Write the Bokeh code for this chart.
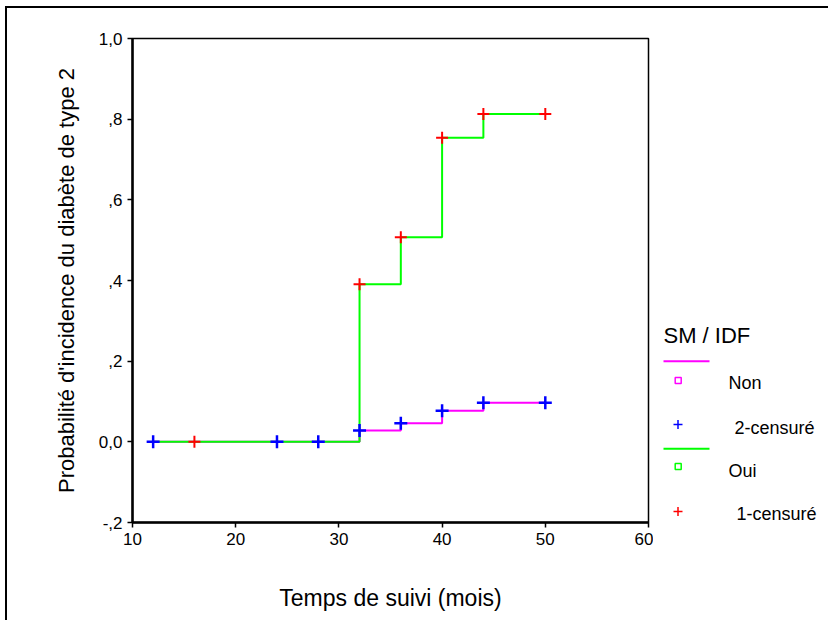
from bokeh.plotting import figure
from bokeh.layouts import row
from bokeh.models import Range1d, FixedTicker
from bokeh.core.properties import value
from bokeh.embed import file_html
from bokeh.resources import INLINE

FONT = "Liberation Sans"

# ---- data ----
non_times = [12, 32, 36, 40, 44, 50]
non_probs = [0.0, 0.028, 0.046, 0.077, 0.097, 0.097]
oui_times = [12, 32, 36, 40, 44, 50]
oui_probs = [0.0, 0.391, 0.507, 0.754, 0.813, 0.813]
non_cens_x = [12, 24, 28, 32, 36, 40, 44, 50]
non_cens_y = [0.0, 0.0, 0.0, 0.028, 0.046, 0.077, 0.097, 0.097]
oui_cens_x = [16, 32, 36, 40, 44, 50]
oui_cens_y = [0.0, 0.391, 0.507, 0.754, 0.813, 0.813]
x_ticks = [10, 20, 30, 40, 50, 60]
y_ticks = [-0.2, 0.0, 0.2, 0.4, 0.6, 0.8, 1.0]
y_tick_labels = ["-,2", "0,0", ",2", ",4", ",6", ",8", "1,0"]
legend_title = "SM / IDF"
legend_labels = ["Non", "2-censuré", "Oui", "1-censuré"]

MAGENTA, GREEN, BLUE, RED = "#ff00ff", "#00ff00", "#0000ff", "#ff0000"

H = 612
BT, BB = 30, 98
p = figure(width=646, height=H, x_range=Range1d(10, 60), y_range=Range1d(-0.2, 1.0),
           output_backend="svg", toolbar_location=None,
           min_border_left=125, min_border_right=5, min_border_top=BT, min_border_bottom=BB)
p.grid.visible = False
p.outline_line_color = "black"
p.outline_line_width = 1.5
p.background_fill_color = "white"
p.border_fill_color = "white"

for ax in (p.xaxis[0], p.yaxis[0]):
    ax.axis_line_width = 2.5
    ax.major_tick_in = 0
    ax.major_tick_out = 5
    ax.major_tick_line_width = 1.5
    ax.minor_tick_line_color = None
    ax.major_label_text_font = FONT
    ax.major_label_text_font_size = "17px"
    ax.major_label_text_color = "black"
    ax.axis_label_text_font = FONT
    ax.axis_label_text_font_style = "normal"
    ax.axis_label_text_color = "black"

p.xaxis.ticker = FixedTicker(ticks=x_ticks)
p.xaxis.major_label_standoff = 5
p.xaxis.axis_label = "Temps de suivi (mois)"
p.xaxis.axis_label_text_font_size = "23px"
p.xaxis.axis_label_standoff = 37

p.yaxis.ticker = FixedTicker(ticks=y_ticks)
p.yaxis.major_label_overrides = {t: l for t, l in zip(y_ticks, y_tick_labels)}
p.yaxis.major_label_standoff = 5
p.yaxis.axis_label = "Probabilité d'incidence du diabète de type 2"
p.yaxis.axis_label_text_font_size = "22px"
p.yaxis.axis_label_standoff = 17

p.step(non_times, non_probs, mode="after", line_color=MAGENTA, line_width=2)
p.step(oui_times, oui_probs, mode="after", line_color=GREEN, line_width=2)
p.scatter(non_cens_x, non_cens_y, marker="cross", size=13, line_color=BLUE, line_width=2.5)
p.scatter(oui_cens_x, oui_cens_y, marker="cross", size=12, line_color=RED, line_width=2)

# ---- legend panel: its frame is aligned with the main frame; coordinates are page pixels ----
LW = 175
lg = figure(width=LW, height=H, x_range=Range1d(653, 653 + LW), y_range=Range1d(522, 38),
            output_backend="svg", toolbar_location=None,
            min_border_left=0, min_border_right=0, min_border_top=BT, min_border_bottom=BB)
lg.axis.visible = False
lg.grid.visible = False
lg.outline_line_color = None
lg.border_fill_color = "white"

lg.text(x=[663], y=[335], text=[legend_title], text_font=value(FONT), text_font_size="22px",
        text_baseline="middle", text_align="left", text_color="black")
lg.line(x=[663, 709], y=[360.7, 360.7], line_color=MAGENTA, line_width=2)
lg.scatter(x=[677.7], y=[380], marker="square", size=6, fill_color=None, line_color=MAGENTA, line_width=1.5)
lg.scatter(x=[677.5], y=[424], marker="cross", size=9, line_color=BLUE, line_width=1.5)
lg.line(x=[663, 709], y=[448.3, 448.3], line_color=GREEN, line_width=2)
lg.scatter(x=[677.7], y=[466], marker="square", size=6, fill_color=None, line_color=GREEN, line_width=1.5)
lg.scatter(x=[677.5], y=[511], marker="cross", size=9, line_color=RED, line_width=1.5)
lg.text(x=[728, 734, 728, 736], y=[382.7, 427, 470.7, 513], text=legend_labels,
        text_font=value(FONT), text_font_size="18px", text_baseline="middle",
        text_align="left", text_color="black")

layout = row(p, lg, styles={"border-left": "2px solid black", "border-top": "2px solid black",
                            "margin-left": "5px", "margin-top": "6px"})

open("out.html", "w").write(file_html(layout, INLINE))
